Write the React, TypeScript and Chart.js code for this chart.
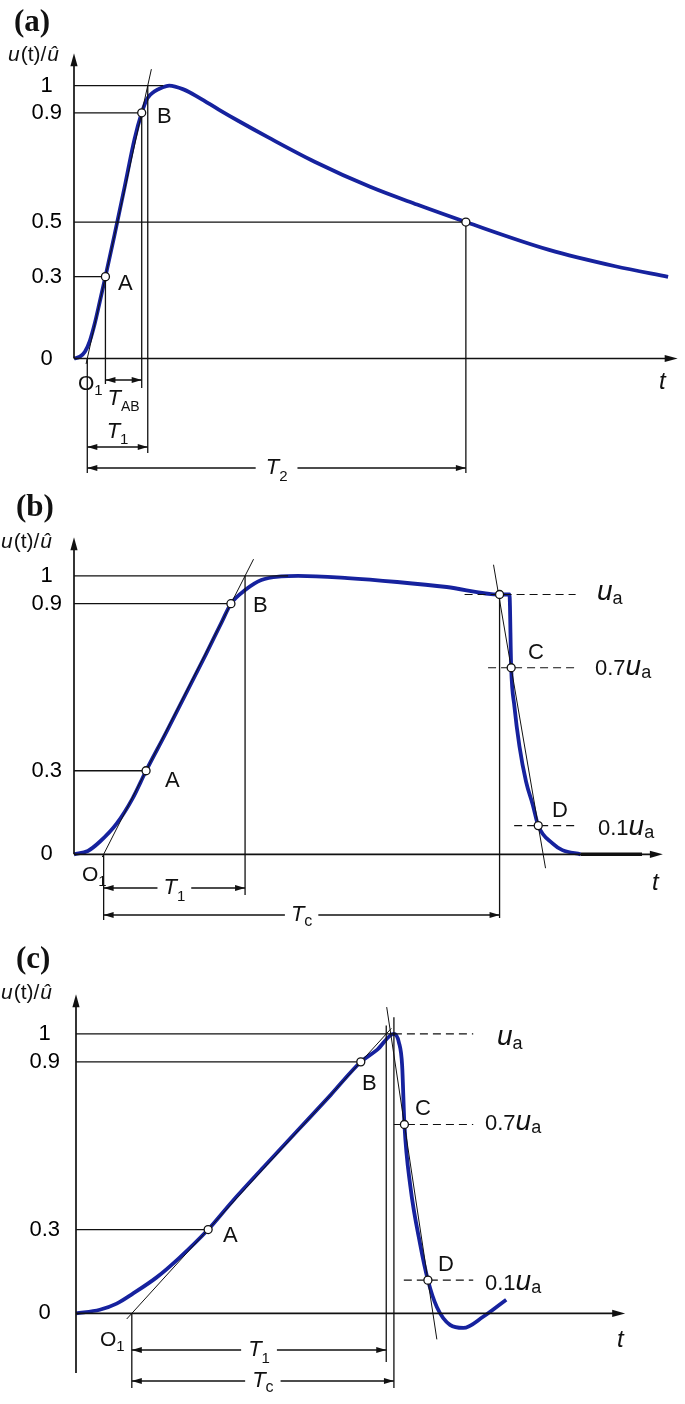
import React, { useEffect, useRef } from "react";
import { Chart, registerables } from "chart.js";

Chart.register(...registerables);

const SANS = '"Liberation Sans", Arial, Helvetica, sans-serif';
const SERIF = '"Liberation Serif", "Times New Roman", serif';
const BLUE = "rgb(22,34,158)";
const INK = "#111111";

// ---------------- (a) full lightning impulse ----------------
const A_TIME = [0, 0.6, 1.1, 1.6, 2.1, 2.6, 3.17, 4.1, 5.1, 6.1, 6.83, 7.4, 8.1, 8.9, 9.6, 11.1, 12.6, 14.6, 16.6, 19.6, 24.27, 29.93, 34.6, 39.53, 47.93, 54.6, 59.93];
const A_VOLT = [0, 0.007, 0.025, 0.065, 0.129, 0.208, 0.3, 0.455, 0.627, 0.803, 0.9, 0.953, 0.978, 0.993, 1.0, 0.985, 0.956, 0.912, 0.87, 0.81, 0.721, 0.628, 0.564, 0.5, 0.398, 0.338, 0.299];
const A_MARK_TIME = [3.17, 6.83, 39.53]; // A, B, half value
const A_MARK_VOLT = [0.3, 0.9, 0.5];
const A_TICKS = [0, 0.3, 0.5, 0.9, 1];
const A_TICK_LABELS = ["0", "0.3", "0.5", "0.9", "1"];

// ---------------- (b) impulse chopped on the tail ----------------
const B_TIME = [0, 1.4, 2.6, 4.3, 5.9, 7.27, 9.3, 11.3, 13.3, 14.9, 15.83, 17.3, 18.9, 20.9, 22.6, 27.6, 32.6, 37.6, 42.93, 43.93, 44.1, 44.43, 44.93, 45.6, 46.27, 46.83, 48.27, 49.27, 51.1];
const B_VOLT = [0, 0.012, 0.045, 0.11, 0.2, 0.3, 0.438, 0.578, 0.718, 0.834, 0.9, 0.95, 0.985, 0.998, 1.0, 0.992, 0.978, 0.96, 0.933, 0.933, 0.67, 0.53, 0.389, 0.261, 0.179, 0.103, 0.039, 0.015, 0.0];
const B_TAIL_TIME = [51.1, 57.3];
const B_TAIL_VOLT = [0, 0];
const B_MARK_TIME = [7.27, 15.83, 42.93, 44.1, 46.83]; // A, B, ua, C, D
const B_MARK_VOLT = [0.3, 0.9, 0.933, 0.67, 0.103];
const B_TICKS = [0, 0.3, 0.9, 1];
const B_TICK_LABELS = ["0", "0.3", "0.9", "1"];

// ---------------- (c) impulse chopped on the front ----------------
const C_TIME = [0, 2.4, 4.1, 5.7, 8.1, 10.4, 13.33, 15.7, 19.1, 22.4, 25.7, 28.73, 30.4, 32.07, 32.57, 32.9, 33.13, 33.73, 34.73, 35.5, 36.4, 37.73, 39.07, 41.07, 43.4];
const C_VOLT = [0, 0.013, 0.035, 0.07, 0.128, 0.198, 0.3, 0.398, 0.53, 0.656, 0.782, 0.9, 0.944, 1.0, 0.97, 0.887, 0.676, 0.455, 0.245, 0.119, 0.023, -0.041, -0.052, -0.012, 0.049];
const C_MARK_TIME = [13.33, 28.73, 33.13, 35.5]; // A, B, C, D
const C_MARK_VOLT = [0.3, 0.9, 0.676, 0.119];
const C_TICKS = [0, 0.3, 0.9, 1];
const C_TICK_LABELS = ["0", "0.3", "0.9", "1"];

// ---------------- text helpers ----------------
type Seg = { text: string; size: number; italic?: boolean; bold?: boolean; serif?: boolean; dy?: number; gap?: number };
const fontOf = (s: Seg) =>
  `${s.italic ? "italic " : ""}${s.bold ? "bold " : ""}${s.size}px ${s.serif ? SERIF : SANS}`;

function richWidth(ctx: CanvasRenderingContext2D, segs: Seg[]) {
  let w = 0;
  for (const s of segs) {
    ctx.font = fontOf(s);
    w += ctx.measureText(s.text).width + (s.gap || 0);
  }
  return w;
}
function rich(ctx: CanvasRenderingContext2D, segs: Seg[], x: number, y: number, align: "left" | "center" = "left") {
  ctx.save();
  ctx.fillStyle = INK;
  ctx.textBaseline = "middle";
  ctx.textAlign = "left";
  let cx = align === "center" ? x - richWidth(ctx, segs) / 2 : x;
  for (const s of segs) {
    ctx.font = fontOf(s);
    ctx.fillText(s.text, cx, y + (s.dy || 0));
    cx += ctx.measureText(s.text).width + (s.gap || 0);
  }
  ctx.restore();
}
const T = (sub: string, subSize = 15, dy = 8.5): Seg[] => [
  { text: "T", size: 22, italic: true },
  { text: sub, size: subSize, dy },
];
const UA: Seg[] = [
  { text: "u", size: 28, italic: true, dy: -2.4 },
  { text: "a", size: 18, dy: 4.2 },
];
const kUA = (k: string): Seg[] => [
  { text: k, size: 22 },
  { text: "u", size: 28, italic: true, dy: -1.4 },
  { text: "a", size: 18, dy: 5 },
];
const O1: Seg[] = [
  { text: "O", size: 21 },
  { text: "1", size: 15, dy: 6.5 },
];
const YLABEL: Seg[] = [
  { text: "u", size: 21, italic: true, gap: 1 },
  { text: "(t)/", size: 21, gap: 1 },
  { text: "û", size: 21, italic: true },
];
const PANEL_LABEL = (c: string): Seg[] => [{ text: `(${c})`, size: 31, bold: true, serif: true }];
const L = (c: string): Seg[] => [{ text: c, size: 22 }];
const TLABEL: Seg[] = [{ text: "t", size: 24, italic: true }];

// ---------------- drawing helpers ----------------
type Fn = (v: number) => number;
function mk(ctx: CanvasRenderingContext2D) {
  const seg = (x1: number, y1: number, x2: number, y2: number, w = 1.3, dash: number[] = []) => {
    ctx.save();
    ctx.strokeStyle = INK;
    ctx.lineWidth = w;
    ctx.setLineDash(dash);
    ctx.beginPath();
    ctx.moveTo(x1, y1);
    ctx.lineTo(x2, y2);
    ctx.stroke();
    ctx.restore();
  };
  const head = (x: number, y: number, dx: number, dy: number, len = 10, half = 3) => {
    ctx.save();
    ctx.fillStyle = INK;
    const bx = x - dx * len;
    const by = y - dy * len;
    ctx.beginPath();
    ctx.moveTo(x, y);
    ctx.lineTo(bx - dy * half, by + dx * half);
    ctx.lineTo(bx + dy * half, by - dx * half);
    ctx.closePath();
    ctx.fill();
    ctx.restore();
  };
  const dim = (x1: number, x2: number, y: number, label?: Seg[], pad = 6) => {
    if (label) {
      const w = richWidth(ctx, label);
      const mid = (x1 + x2) / 2;
      seg(x1, y, mid - w / 2 - pad, y);
      seg(mid + w / 2 + pad, y, x2, y);
      rich(ctx, label, mid, y, "center");
    } else {
      seg(x1, y, x2, y);
    }
    head(x1, y, -1, 0);
    head(x2, y, 1, 0);
  };
  const axes = (X: Fn, Y: Fn, tEnd: number, vTop: number, yBottom?: number) => {
    const ox = X(0);
    const oy = Y(0);
    const xe = X(tEnd);
    const yt = Y(vTop);
    seg(ox, oy, xe - 6, oy, 1.7);
    head(xe, oy, 1, 0, 13, 3.6);
    seg(ox, yBottom ?? oy, ox, yt + 6, 1.7);
    head(ox, yt, 0, -1, 13, 3.6);
  };
  return { seg, head, dim, axes, text: (s: Seg[], x: number, y: number, a: "left" | "center" = "left") => rich(ctx, s, x, y, a) };
}
const tAt = (t1: number, v1: number, t2: number, v2: number, v: number) => t1 + ((v - v1) * (t2 - t1)) / (v2 - v1);

// ---------------- panel annotations ----------------
function drawA(ctx: CanvasRenderingContext2D, X: Fn, Y: Fn) {
  const d = mk(ctx);
  const [tA, tB, tH] = A_MARK_TIME;
  const [uA, uB, uH] = A_MARK_VOLT;
  const tg = (v: number) => tAt(tA, uA, tB, uB, v);
  const t0 = tg(0);
  const t1 = tg(1);
  d.seg(X(0), Y(1), X(9.0), Y(1));
  d.seg(X(0), Y(uB), X(tB), Y(uB));
  d.seg(X(0), Y(uH), X(tH), Y(uH));
  d.seg(X(0), Y(uA), X(tA), Y(uA));
  d.seg(X(tg(-0.02)), Y(-0.02), X(tg(1.06)), Y(1.06), 1);
  d.seg(X(t0), Y(0), X(t0), 473);
  d.seg(X(tA), Y(uA), X(tA), 384);
  d.seg(X(tB), Y(uB), X(tB), 388);
  d.seg(X(t1), Y(1), X(t1), 453);
  d.seg(X(tH), Y(uH), X(tH), 473);
  d.dim(X(tA), X(tB), 380);
  d.text(T("AB", 14, 8), (X(tA) + X(tB)) / 2, 399, "center");
  d.dim(X(t0), X(t1), 447);
  d.text(T("1"), (X(t0) + X(t1)) / 2, 431.5, "center");
  d.dim(X(t0), X(tH), 468, T("2"), 10);
  d.axes(X, Y, 60.9, 1.118);
  d.text(PANEL_LABEL("a"), 14, 23);
  d.text(YLABEL, 8, 55);
  d.text(TLABEL, 659, 382);
  d.text(L("A"), 118, 284);
  d.text(L("B"), 157, 116.5);
  d.text(O1, 78, 384.5);
}

function drawB(ctx: CanvasRenderingContext2D, X: Fn, Y: Fn) {
  const d = mk(ctx);
  const [tA, tB, tU, tC, tD] = B_MARK_TIME;
  const [uA, uB, uU, uC, uD] = B_MARK_VOLT;
  const tg = (v: number) => tAt(tA, uA, tB, uB, v);
  const tcd = (v: number) => tAt(tC, uC, tD, uD, v);
  const t0 = tg(0);
  const t1 = tg(1);
  d.seg(X(0), Y(1), X(21.6), Y(1));
  d.seg(X(0), Y(uB), X(tB), Y(uB));
  d.seg(X(0), Y(uA), X(tA), Y(uA));
  d.seg(X(tg(-0.01)), Y(-0.01), X(tg(1.06)), Y(1.06), 1);
  d.seg(X(tcd(1.04)), Y(1.04), X(tcd(-0.05)), Y(-0.05), 1);
  d.seg(X(t0), Y(0), X(t0), 440);
  d.seg(X(t1), Y(1), X(t1), 415);
  d.seg(X(tU), Y(uU), X(tU), 438);
  const dash = [8, 5];
  d.seg(X(39.4), Y(uU), X(50.6), Y(uU), 1.2, dash);
  d.seg(X(41.77), Y(uC), X(50.6), Y(uC), 1.2, dash);
  d.seg(X(44.4), Y(uD), X(50.6), Y(uD), 1.2, dash);
  d.dim(X(t0), X(t1), 408, T("1"), 6);
  d.dim(X(t0), X(tU), 435, T("c", 16, 7), 6);
  d.axes(X, Y, 59.4, 1.139);
  d.text(PANEL_LABEL("b"), 16, 28);
  d.text(YLABEL, 1, 62);
  d.text(TLABEL, 652, 403.5);
  d.text(L("A"), 165, 300.5);
  d.text(L("B"), 253, 125.5);
  d.text(L("C"), 528, 172.5);
  d.text(L("D"), 552, 330.5);
  d.text(UA, 597, 114.5);
  d.text(kUA("0.7"), 595, 188.5);
  d.text(kUA("0.1"), 598, 348.5);
  d.text(O1, 82, 395);
}

function drawC(ctx: CanvasRenderingContext2D, X: Fn, Y: Fn) {
  const d = mk(ctx);
  const [tA, tB, tC, tD] = C_MARK_TIME;
  const [uA, uB, uC, uD] = C_MARK_VOLT;
  const uP = Math.max(...C_VOLT);
  const tP = C_TIME[C_VOLT.indexOf(uP)];
  const tg = (v: number) => tAt(tA, uA, tB, uB, v);
  const tcd = (v: number) => tAt(tC, uC, tD, uD, v);
  const t0 = tg(0);
  const t1 = tg(1);
  d.seg(X(0), Y(uP), X(tP), Y(uP));
  d.seg(X(0), Y(uB), X(tB), Y(uB));
  d.seg(X(0), Y(uA), X(tA), Y(uA));
  d.seg(X(tg(-0.02)), Y(-0.02), X(tg(1.02)), Y(1.02), 1);
  d.seg(X(tcd(1.096)), Y(1.096), X(tcd(-0.093)), Y(-0.093), 1);
  d.seg(X(t0), Y(0), X(t0), 448);
  d.seg(X(t1), Y(1.03), X(t1), 422);
  d.seg(X(tP), Y(1.06), X(tP), 448);
  const dash = [8, 5];
  d.seg(X(tP), Y(uP), X(40.07), Y(uP), 1.2, dash);
  d.seg(X(32.07), Y(uC), X(40.07), Y(uC), 1.2, dash);
  d.seg(X(33.07), Y(uD), X(40.07), Y(uD), 1.2, dash);
  d.dim(X(t0), X(t1), 410, T("1"), 7);
  d.dim(X(t0), X(tP), 441, T("c", 16, 7), 7);
  d.axes(X, Y, 55.4, 1.142, 433);
  d.text(PANEL_LABEL("c"), 16, 20);
  d.text(YLABEL, 1, 53);
  d.text(TLABEL, 617, 400);
  d.text(L("A"), 223, 295.5);
  d.text(L("B"), 362, 143.5);
  d.text(L("C"), 415, 168.5);
  d.text(L("D"), 438, 325);
  d.text(UA, 497, 100);
  d.text(kUA("0.7"), 485, 183.5);
  d.text(kUA("0.1"), 485, 343.5);
  d.text(O1, 100, 400);
}

// ---------------- panel specs ----------------
type Spec = {
  key: string;
  top: number;
  height: number;
  axisX: number;
  y0: number;
  unitY: number;
  pxPerT: number;
  tickPad: number;
  curveT: number[];
  curveU: number[];
  tailT?: number[];
  tailU?: number[];
  markT: number[];
  markU: number[];
  ticks: number[];
  tickLabels: string[];
  draw: (ctx: CanvasRenderingContext2D, X: Fn, Y: Fn) => void;
};

const PANELS: Spec[] = [
  { key: "a", top: 0, height: 492, axisX: 74, y0: 361, unitY: 279, pxPerT: 10, tickPad: 12,
    curveT: A_TIME, curveU: A_VOLT, markT: A_MARK_TIME, markU: A_MARK_VOLT,
    ticks: A_TICKS, tickLabels: A_TICK_LABELS, draw: drawA },
  { key: "b", top: 480, height: 460, axisX: 74, y0: 377.7, unitY: 285, pxPerT: 10, tickPad: 12,
    curveT: B_TIME, curveU: B_VOLT, tailT: B_TAIL_TIME, tailU: B_TAIL_VOLT, markT: B_MARK_TIME, markU: B_MARK_VOLT,
    ticks: B_TICKS, tickLabels: B_TICK_LABELS, draw: drawB },
  { key: "c", top: 940, height: 464, axisX: 76, y0: 376.7, unitY: 286, pxPerT: 10, tickPad: 16,
    curveT: C_TIME, curveU: C_VOLT, markT: C_MARK_TIME, markU: C_MARK_VOLT,
    ticks: C_TICKS, tickLabels: C_TICK_LABELS, draw: drawC },
];

const zip = (xs: number[], ys: number[]) => xs.map((x, i) => ({ x, y: ys[i] }));

function buildConfig(s: Spec): any {
  const datasets: any[] = [
    {
      label: "marks",
      data: zip(s.markT, s.markU),
      showLine: false,
      pointRadius: 4,
      pointBackgroundColor: "#ffffff",
      pointBorderColor: INK,
      pointBorderWidth: 1.3,
      order: 0,
      clip: false,
    },
    {
      label: "curve",
      data: zip(s.curveT, s.curveU),
      borderColor: BLUE,
      borderWidth: 3.8,
      pointRadius: 0,
      cubicInterpolationMode: "monotone",
      fill: false,
      order: 1,
      clip: false,
    },
  ];
  if (s.tailT && s.tailU) {
    datasets.push({
      label: "tail",
      data: zip(s.tailT, s.tailU),
      borderColor: INK,
      borderWidth: 3.4,
      pointRadius: 0,
      fill: false,
      order: 2,
      clip: false,
    });
  }
  const annot = {
    id: "annot" + s.key,
    afterDatasetDraw(chart: any, args: any) {
      if (chart.data.datasets[args.index].label !== "curve") return;
      const X = (t: number) => chart.scales.x.getPixelForValue(t);
      const Y = (v: number) => chart.scales.y.getPixelForValue(v);
      s.draw(chart.ctx, X, Y);
    },
  };
  return {
    type: "line",
    data: { datasets },
    plugins: [annot],
    options: {
      responsive: false,
      animation: false,
      events: [],
      layout: { padding: 0 },
      plugins: { legend: { display: false }, tooltip: { enabled: false } },
      scales: {
        x: {
          type: "linear",
          display: false,
          min: 0,
          max: (685 - s.axisX) / s.pxPerT,
        },
        y: {
          type: "linear",
          position: "left",
          min: -(s.height - s.y0) / s.unitY,
          max: s.y0 / s.unitY,
          grid: { display: false, drawTicks: false },
          border: { display: false },
          afterBuildTicks: (sc: any) => {
            sc.ticks = s.ticks.map((v) => ({ value: v }));
          },
          afterFit: (sc: any) => {
            sc.width = s.axisX;
            sc.paddingTop = 0;
            sc.paddingBottom = 0;
          },
          ticks: {
            autoSkip: false,
            padding: s.tickPad,
            crossAlign: "center",
            color: "#000000",
            font: { family: SANS, size: 22 },
            callback: (v: number) => {
              const i = s.ticks.indexOf(v);
              return i >= 0 ? s.tickLabels[i] : "";
            },
          },
        },
      },
    },
  };
}

function Panel({ spec }: { spec: Spec }) {
  const ref = useRef<HTMLCanvasElement>(null);
  useEffect(() => {
    const canvas = ref.current;
    if (!canvas) return;
    const chart = new Chart(canvas, buildConfig(spec));
    return () => chart.destroy();
  }, [spec]);
  return (
    <canvas
      ref={ref}
      width={685}
      height={spec.height}
      style={{ position: "absolute", left: 0, top: spec.top, width: 685, height: spec.height }}
    />
  );
}

export default function App() {
  return (
    <div style={{ position: "absolute", left: 0, top: 0, width: 685, height: 1404, background: "#ffffff" }}>
      {PANELS.map((p) => (
        <Panel key={p.key} spec={p} />
      ))}
    </div>
  );
}
